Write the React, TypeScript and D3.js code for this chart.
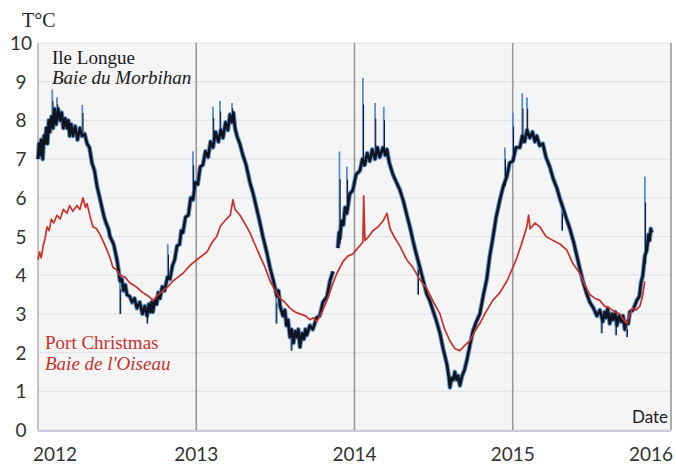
import React from "react";
import * as d3 from "d3";

// Ile Longue (Baie du Morbihan) – [decimal year, °C]; null marks a gap in the record
const ileLongue: [number, number | null][] = [
  [2012.0, 7.0], [2012.006, 7.4], [2012.013, 7.1], [2012.02, 7.5], [2012.03, 7.0],
  [2012.038, 7.6], [2012.044, 7.4], [2012.052, 7.8], [2012.06, 7.4], [2012.068, 8.0],
  [2012.075, 7.7], [2012.085, 8.1], [2012.095, 7.8], [2012.105, 8.3], [2012.115, 7.9],
  [2012.127, 8.3], [2012.139, 8.0], [2012.15, 8.2], [2012.16, 7.8], [2012.172, 8.05],
  [2012.183, 7.8], [2012.192, 8.0], [2012.2, 7.6], [2012.21, 7.9], [2012.221, 7.6],
  [2012.235, 7.85], [2012.25, 7.5], [2012.265, 7.8], [2012.278, 7.6], [2012.295, 7.65],
  [2012.31, 7.4], [2012.325, 7.3], [2012.341, 6.9], [2012.357, 6.7], [2012.373, 6.3],
  [2012.39, 6.0], [2012.404, 5.75], [2012.418, 5.5], [2012.43, 5.35], [2012.445, 5.2],
  [2012.455, 5.0], [2012.478, 4.8], [2012.499, 4.4], [2012.51, 4.1], [2012.518, 3.85],
  [2012.53, 3.9], [2012.54, 3.6], [2012.552, 3.75], [2012.562, 3.5], [2012.58, 3.45],
  [2012.595, 3.3], [2012.61, 3.4], [2012.625, 3.15], [2012.643, 3.3], [2012.66, 3.0],
  [2012.675, 3.2], [2012.689, 2.95], [2012.7, 3.25], [2012.71, 3.05], [2012.718, 3.3],
  [2012.726, 3.05], [2012.738, 3.35], [2012.75, 3.25], [2012.76, 3.55], [2012.771, 3.4],
  [2012.785, 3.7], [2012.8, 3.6], [2012.818, 3.95], [2012.834, 3.9], [2012.85, 4.25],
  [2012.864, 4.4], [2012.878, 4.75], [2012.895, 4.8], [2012.905, 5.15], [2012.916, 5.1],
  [2012.932, 5.5], [2012.95, 5.55], [2012.965, 6.0], [2012.979, 5.95], [2012.995, 6.4],
  [2013.01, 6.35], [2013.025, 6.8], [2013.042, 6.85], [2013.058, 7.2], [2013.075, 7.05],
  [2013.09, 7.45], [2013.106, 7.3], [2013.122, 7.7], [2013.14, 7.45], [2013.155, 7.75],
  [2013.169, 7.55], [2013.185, 7.95], [2013.2, 7.75], [2013.213, 8.15], [2013.226, 7.95],
  [2013.235, 8.2], [2013.245, 7.8], [2013.257, 7.6], [2013.275, 7.4], [2013.295, 7.1],
  [2013.315, 6.85], [2013.339, 6.4], [2013.36, 6.1], [2013.383, 5.7], [2013.4, 5.4],
  [2013.421, 5.0], [2013.445, 4.6], [2013.466, 4.2], [2013.488, 3.85], [2013.51, 3.45],
  [2013.52, 3.6], [2013.53, 3.2], [2013.548, 2.95], [2013.56, 3.1], [2013.57, 2.7],
  [2013.58, 2.85], [2013.592, 2.4], [2013.603, 2.6], [2013.615, 2.25], [2013.625, 2.55],
  [2013.636, 2.4], [2013.645, 2.6], [2013.655, 2.15], [2013.668, 2.5], [2013.68, 2.35],
  [2013.69, 2.6], [2013.699, 2.45], [2013.718, 2.7], [2013.737, 2.6], [2013.76, 2.9],
  [2013.781, 2.95], [2013.8, 3.3], [2013.826, 3.45], [2013.845, 3.85], [2013.864, 4.1],
  [2013.88, null],
  [2013.895, 4.7], [2013.902, 5.1], [2013.908, 4.95], [2013.918, 5.4], [2013.93, 5.3],
  [2013.94, 5.75], [2013.952, 5.6], [2013.97, 6.1], [2013.99, 6.2], [2014.01, 6.6],
  [2014.034, 6.7], [2014.05, 7.0], [2014.065, 6.85], [2014.08, 7.15], [2014.097, 6.95],
  [2014.112, 7.25], [2014.13, 7.0], [2014.145, 7.3], [2014.16, 7.05], [2014.18, 7.3],
  [2014.195, 7.1], [2014.205, 7.25], [2014.22, 6.9], [2014.243, 6.6], [2014.265, 6.4],
  [2014.287, 6.2], [2014.31, 5.9], [2014.331, 5.55], [2014.35, 5.25], [2014.369, 4.9],
  [2014.39, 4.55], [2014.413, 4.2], [2014.435, 3.85], [2014.457, 3.5], [2014.475, 3.35],
  [2014.495, 3.1], [2014.515, 2.85], [2014.54, 2.5], [2014.56, 2.1], [2014.584, 1.7],
  [2014.595, 1.4], [2014.603, 1.1], [2014.615, 1.35], [2014.625, 1.3], [2014.634, 1.5],
  [2014.645, 1.3], [2014.655, 1.4], [2014.666, 1.15], [2014.68, 1.4], [2014.695, 1.55],
  [2014.71, 1.8], [2014.73, 2.2], [2014.748, 2.55], [2014.77, 2.8], [2014.792, 3.0],
  [2014.815, 3.5], [2014.836, 3.9], [2014.855, 4.5], [2014.874, 4.95], [2014.895, 5.5],
  [2014.919, 5.95], [2014.94, 6.3], [2014.963, 6.55], [2014.98, 6.9], [2015.001, 6.95],
  [2015.02, 7.3], [2015.045, 7.3], [2015.06, 7.6], [2015.075, 7.45], [2015.09, 7.75],
  [2015.108, 7.55], [2015.125, 7.7], [2015.14, 7.45], [2015.152, 7.6], [2015.17, 7.35],
  [2015.19, 7.4], [2015.21, 7.05], [2015.234, 6.8], [2015.255, 6.5], [2015.279, 6.25],
  [2015.3, 5.95], [2015.317, 5.75], [2015.34, 5.45], [2015.361, 5.2], [2015.385, 4.85],
  [2015.405, 4.5], [2015.425, 4.15], [2015.443, 3.85], [2015.465, 3.55], [2015.487, 3.3],
  [2015.51, 3.15], [2015.531, 2.95], [2015.55, 3.1], [2015.569, 2.8], [2015.58, 3.05],
  [2015.59, 2.9], [2015.6, 3.15], [2015.613, 2.75], [2015.625, 3.0], [2015.635, 2.85],
  [2015.648, 3.05], [2015.658, 2.7], [2015.672, 2.95], [2015.685, 2.8], [2015.697, 2.95],
  [2015.708, 2.6], [2015.72, 2.8], [2015.73, 2.75], [2015.74, 3.05], [2015.76, 3.1],
  [2015.784, 3.35], [2015.8, 3.45], [2015.81, 3.8], [2015.822, 4.0], [2015.835, 4.5],
  [2015.847, 4.65], [2015.858, 5.05], [2015.865, 4.9], [2015.872, 5.2], [2015.879, 5.1],
];

// Ile Longue short excursions: [decimal year, low °C, high °C]
const ileLongueSpikes: [number, number, number][] = [
  [2012.09, 7.8, 8.8], [2012.12, 8.0, 8.6], [2012.28, 7.7, 8.4], [2012.518, 3.0, 3.9],
  [2012.689, 2.75, 3.1], [2012.82, 3.9, 4.8], [2012.979, 6.0, 7.2], [2013.106, 7.4, 8.35],
  [2013.15, 7.6, 8.5], [2013.226, 8.0, 8.45], [2013.505, 2.75, 3.5], [2013.6, 2.05, 2.5],
  [2013.655, 2.1, 2.5], [2013.905, 4.8, 7.2], [2013.952, 5.7, 6.8], [2014.053, 6.8, 9.1],
  [2014.13, 7.1, 8.45], [2014.185, 7.2, 8.35], [2014.4, 3.5, 4.4], [2014.95, 6.3, 7.3],
  [2015.001, 7.0, 8.2], [2015.06, 7.4, 8.7], [2015.09, 7.6, 8.6], [2015.31, 5.15, 5.8],
  [2015.56, 2.5, 2.95], [2015.65, 2.45, 2.85], [2015.72, 2.4, 2.7], [2015.835, 4.3, 6.55],
];

// Port Christmas (Baie de l'Oiseau), [decimal year, °C]
const portChristmas: [number, number][] = [
  [2012.0, 4.4], [2012.01, 4.6], [2012.02, 4.45], [2012.035, 4.8], [2012.045, 4.95],
  [2012.057, 5.25], [2012.07, 5.15], [2012.085, 5.45], [2012.1, 5.35], [2012.12, 5.55],
  [2012.14, 5.45], [2012.16, 5.7], [2012.183, 5.6], [2012.2, 5.8], [2012.22, 5.65],
  [2012.246, 5.8], [2012.265, 5.7], [2012.284, 6.0], [2012.3, 5.75], [2012.31, 5.85],
  [2012.33, 5.5], [2012.347, 5.25], [2012.37, 5.2], [2012.392, 5.05], [2012.415, 4.85],
  [2012.436, 4.65], [2012.455, 4.45], [2012.474, 4.2], [2012.495, 4.15], [2012.518, 4.0],
  [2012.55, 3.95], [2012.581, 3.8], [2012.62, 3.7], [2012.663, 3.55], [2012.7, 3.45],
  [2012.726, 3.35], [2012.76, 3.5], [2012.79, 3.6], [2012.82, 3.7], [2012.853, 3.85],
  [2012.885, 3.95], [2012.916, 4.05], [2012.96, 4.25], [2013.004, 4.4], [2013.035, 4.5],
  [2013.068, 4.6], [2013.1, 4.85], [2013.13, 5.0], [2013.15, 5.25], [2013.19, 5.45],
  [2013.215, 5.55], [2013.232, 5.95], [2013.245, 5.7], [2013.276, 5.55], [2013.305, 5.35],
  [2013.339, 5.1], [2013.37, 4.8], [2013.402, 4.5], [2013.435, 4.2], [2013.466, 3.85],
  [2013.5, 3.6], [2013.529, 3.4], [2013.56, 3.3], [2013.592, 3.15], [2013.625, 3.05],
  [2013.655, 3.0], [2013.69, 2.95], [2013.718, 2.85], [2013.74, 2.9], [2013.762, 2.8],
  [2013.795, 3.05], [2013.826, 3.35], [2013.86, 3.75], [2013.889, 4.05], [2013.927, 4.35],
  [2013.96, 4.5], [2013.99, 4.55], [2014.02, 4.7], [2014.053, 4.85], [2014.058, 6.05],
  [2014.066, 4.9], [2014.09, 5.0], [2014.116, 5.15], [2014.15, 5.25], [2014.18, 5.4],
  [2014.205, 5.6], [2014.225, 5.2], [2014.25, 5.0], [2014.287, 4.75], [2014.33, 4.4],
  [2014.369, 4.2], [2014.41, 3.9], [2014.457, 3.65], [2014.5, 3.3], [2014.54, 3.0],
  [2014.57, 2.6], [2014.603, 2.3], [2014.635, 2.1], [2014.666, 2.05], [2014.7, 2.2],
  [2014.729, 2.3], [2014.76, 2.55], [2014.792, 2.75], [2014.83, 3.05], [2014.874, 3.35],
  [2014.919, 3.55], [2014.963, 3.85], [2015.001, 4.2], [2015.026, 4.45], [2015.055, 4.8],
  [2015.089, 5.25], [2015.1, 5.55], [2015.11, 5.2], [2015.14, 5.35], [2015.171, 5.25],
  [2015.21, 5.0], [2015.253, 4.9], [2015.3, 4.8], [2015.342, 4.65], [2015.38, 4.3],
  [2015.424, 4.05], [2015.455, 3.75], [2015.487, 3.5], [2015.52, 3.4], [2015.55, 3.35],
  [2015.58, 3.2], [2015.613, 3.15], [2015.645, 3.05], [2015.677, 3.0], [2015.7, 2.85],
  [2015.721, 2.75], [2015.74, 3.0], [2015.759, 3.15], [2015.78, 3.1], [2015.803, 3.2],
  [2015.82, 3.45], [2015.834, 3.85],
];

const yearTicks = [2012, 2013, 2014, 2015, 2016];
const tempTicks = [0, 1, 2, 3, 4, 5, 6, 7, 8, 9, 10];

const width = 676;
const height = 467;
const margin = { top: 43, right: 5, bottom: 37, left: 38 };

export default function App() {
  const x = d3
    .scaleLinear()
    .domain([2012, 2016])
    .range([margin.left, width - margin.right]);
  const y = d3
    .scaleLinear()
    .domain([0, 10])
    .range([height - margin.bottom, margin.top]);

  const line = d3
    .line<[number, number | null]>()
    .defined((d) => d[1] != null)
    .x((d) => x(d[0]))
    .y((d) => y(d[1] as number));

  const sans = "Lato, 'Open Sans', sans-serif";
  const serif = "'Liberation Serif', 'DejaVu Serif', serif";
  const red = "#c9322b";

  return (
    <svg
      width={width}
      height={height}
      style={{ position: "absolute", left: 0, top: 0, background: "#fff" }}
    >
      {/* plot background */}
      <rect
        x={x(2012)}
        y={y(10)}
        width={x(2016) - x(2012)}
        height={y(0) - y(10)}
        fill="#f5f5f5"
      />
      {/* horizontal grid */}
      {tempTicks.map((t) => (
        <line
          key={"g" + t}
          x1={x(2012)}
          x2={x(2016)}
          y1={y(t)}
          y2={y(t)}
          stroke="#e4e4e7"
          strokeWidth={1.2}
        />
      ))}
      {/* year lines */}
      {yearTicks.map((yr) => (
        <line
          key={"v" + yr}
          x1={x(yr)}
          x2={x(yr)}
          y1={y(10)}
          y2={y(0)}
          stroke={yr === 2012 ? "#b4b4b8" : "#9a9a9a"}
          strokeWidth={1.6}
        />
      ))}
      {/* bottom axis line */}
      <line
        x1={x(2012)}
        x2={x(2016)}
        y1={y(0) + 1}
        y2={y(0) + 1}
        stroke="#c9cde0"
        strokeWidth={2}
      />

      {/* Ile Longue, blue fringe */}
      <path
        d={line(ileLongue) ?? ""}
        fill="none"
        stroke="#5a8fcb"
        strokeWidth={4.6}
        strokeLinejoin="round"
      />
      {ileLongueSpikes.map(([t, lo, hi], i) => (
        <line
          key={"s" + i}
          x1={x(t)}
          x2={x(t)}
          y1={y(lo)}
          y2={y(hi)}
          stroke="#5a8fcb"
          strokeWidth={1.8}
        />
      ))}
      {/* Ile Longue, dark trace */}
      <path
        d={line(ileLongue) ?? ""}
        fill="none"
        stroke="#10141f"
        strokeWidth={2.6}
        strokeLinejoin="round"
      />
      {ileLongueSpikes.map(([t, lo, hi], i) => (
        <line
          key={"sk" + i}
          x1={x(t) + 0.7}
          x2={x(t) + 0.7}
          y1={y(lo)}
          y2={y(lo + (hi - lo) * 0.7)}
          stroke="#10141f"
          strokeWidth={1}
        />
      ))}
      {/* Port Christmas (red) */}
      <path
        d={line(portChristmas) ?? ""}
        fill="none"
        stroke={red}
        strokeWidth={1.7}
        strokeLinejoin="round"
      />

      {/* y ticks */}
      {tempTicks.map((t) => (
        <text
          key={"yt" + t}
          x={21}
          y={y(t) + 7}
          textAnchor="middle"
          fontFamily={sans}
          fontSize={19}
          fill="#333"
        >
          {t}
        </text>
      ))}
      {/* x ticks */}
      {yearTicks.map((yr, i) => (
        <text
          key={"xt" + yr}
          x={i === 0 ? 33 : i === yearTicks.length - 1 ? 673 : x(yr)}
          y={461}
          textAnchor={i === 0 ? "start" : i === yearTicks.length - 1 ? "end" : "middle"}
          fontFamily={sans}
          fontSize={19}
          fill="#333"
        >
          {yr}
        </text>
      ))}

      <text x={22} y={27} fontFamily={serif} fontSize={20} fill="#222">
        T°C
      </text>
      <text x={632} y={423} fontFamily={sans} fontSize={17} fill="#222">
        Date
      </text>

      <text x={52} y={64} fontFamily={serif} fontSize={19} fill="#1a1a1a">
        Ile Longue
      </text>
      <text
        x={52}
        y={84}
        fontFamily={serif}
        fontStyle="italic"
        fontSize={19}
        fill="#1a1a1a"
      >
        Baie du Morbihan
      </text>
      <text x={45} y={349} fontFamily={serif} fontSize={19} fill={red}>
        Port Christmas
      </text>
      <text
        x={45}
        y={370}
        fontFamily={serif}
        fontStyle="italic"
        fontSize={19}
        fill={red}
      >
        Baie de l'Oiseau
      </text>
    </svg>
  );
}
